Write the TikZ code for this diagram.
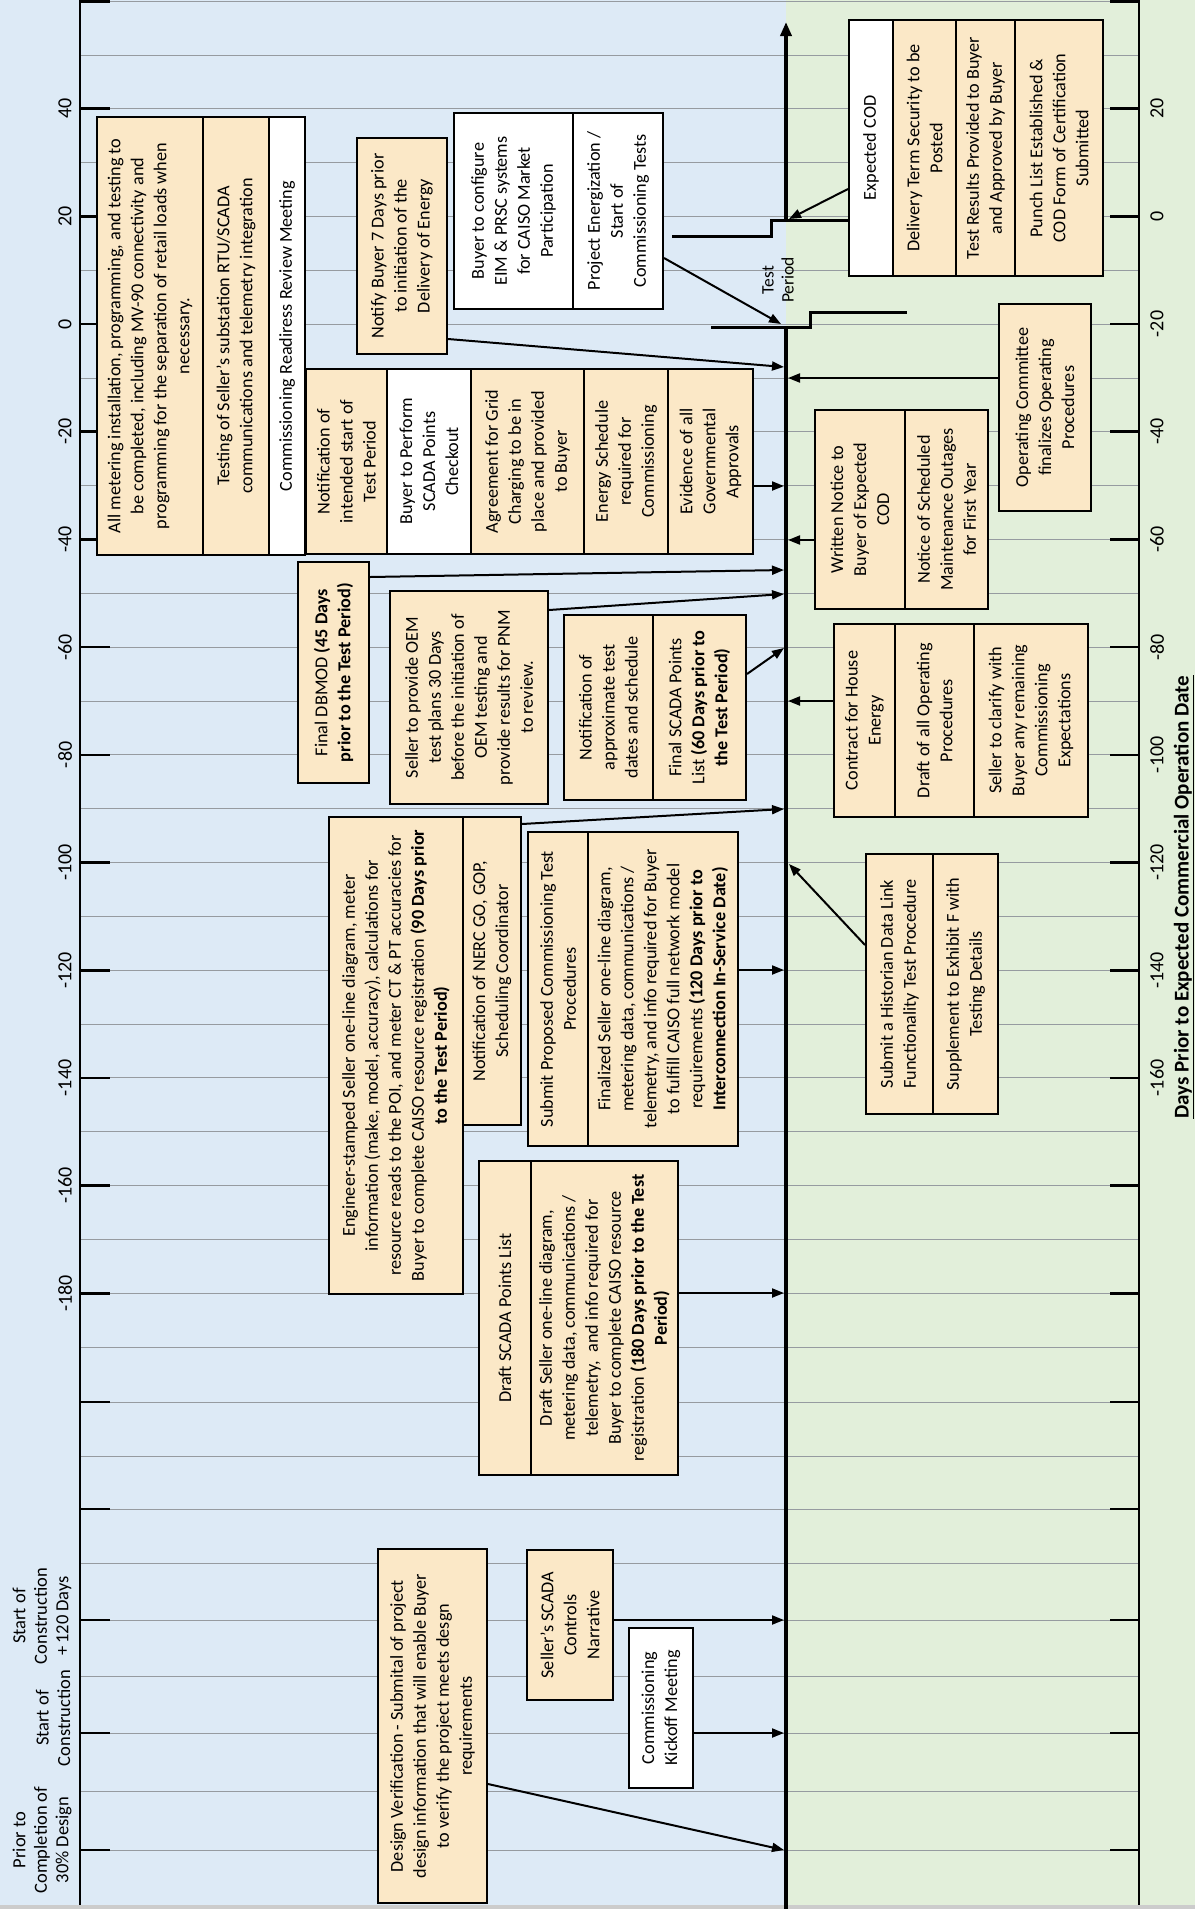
\documentclass[tikz,border=0pt]{standalone}
\usepackage{fontspec}
\setmainfont{Carlito}
\usetikzlibrary{arrows.meta}
\definecolor{bluebg}{RGB}{221,234,246}
\definecolor{greenbg}{RGB}{226,239,218}
\definecolor{peach}{RGB}{251,232,199}
\definecolor{gridc}{RGB}{150,155,160}
\newcommand\rbox[7]{%
  \pgfmathsetmacro\rbW{#5-#3}%
  \pgfmathsetmacro\rbH{#4-#2}%
  \pgfmathsetmacro\rbX{(#2+#4)/2}%
  \pgfmathsetmacro\rbY{(#3+#5)/2}%
  \node[bx,fill=#6,minimum width=\rbW pt,minimum height=\rbH pt] (#1) at (\rbX,\rbY) {#7};%
}
\begin{document}
\begin{tikzpicture}[x=1pt,y=-1pt,
  bx/.style={draw=black,line width=2pt,rotate=90,align=center,inner sep=2pt,font=\fontsize{18.2}{23}\selectfont},
  arr/.style={line width=2pt,-{Triangle[length=12pt,width=9pt]}},
  gl/.style={draw=gridc,line width=1pt},
  tk/.style={line width=2.6pt},
  axisl/.style={line width=4.5pt},
  stepl/.style={line width=3pt},
  lbl/.style={rotate=90,inner sep=0pt,font=\fontsize{20}{24}\selectfont},
  mlbl/.style={rotate=90,inner sep=0pt,align=center,font=\fontsize{18.5}{21.5}\selectfont}]
\useasboundingbox (0,0) rectangle (1195,1909);
% backgrounds
\fill[bluebg] (0,0) rectangle (786,1909);
\fill[greenbg] (786,0) rectangle (1195,1909);
\fill[gray!40] (0,1905) rectangle (1195,1909);
% grid
\foreach \yy in {1.5,55,108.6,162.5,216.3,270,324,378,431.7,485.6,539.4,593,647.1,701,754.8,808.6,862.5,916.4,970.2,1024,1077.9,1131.7,1185.6,1239.5,1293.3,1347,1402,1456,1509,1563,1620,1676,1733,1791,1850}
  \draw[gl] (80,\yy) -- (1139,\yy);
% frame
\draw[line width=2pt] (80,0) -- (80,1905);
\draw[line width=2pt] (1139,0) -- (1139,1905);
% ticks
\foreach \yy in {1.5,108.6,216.3,324,431.7,539.4,647.1,754.8,862.5,970.2,1077.9,1185.6,1293.3,1402,1509,1620,1733,1850}{
  \draw[tk] (80,\yy) -- (110,\yy);
  \draw[tk] (1110,\yy) -- (1139,\yy);}
% left labels
\foreach \d in {40,20,0,-20,-40,-60,-80,-100,-120,-140,-160,-180}
  \node[lbl] at (65,{324-5.385*\d}) {\d};
\node[mlbl] (lbA) at (42,1616) {Start of\\ Construction\\ {+}\,120 Days};
\node[mlbl] (lbB) at (53,1718) {Start of\\ Construction};
\node[mlbl] (lbC) at (42,1840) {Prior to\\ Completion of\\ 30\% Design};
% right labels
\foreach \d in {40,20,0,-20,-40,-60,-80,-100,-120,-140}{
  \pgfmathtruncatemacro\rv{\d-20}
  \node[lbl] at (1157,{324-5.385*\d}) {\rv};}
\node[rotate=90,inner sep=0pt,font=\fontsize{21}{25}\selectfont\bfseries] (title) at (1184,897) {\underline{Days Prior to Expected Commercial Operation Date}};
% axis
\draw[axisl] (786,1909) -- (786,327);
\draw[axisl,-{Triangle[length=14pt,width=11pt]}] (786,221) -- (786,22);
\draw[stepl] (672,236) -- (771,236) -- (771,220) -- (849,220);
\draw[stepl] (711,327) -- (810,327) -- (810,312) -- (907,312);
\node[rotate=90,align=center,inner sep=0pt,font=\fontsize{17.5}{20}\selectfont] (tp) at (778,280) {Test\\ Period};
% boxes
\rbox{A1}{97}{117}{203}{555}{peach}{All metering installation, programming, and testing to\\ be completed, including MV-90 connectivity and\\ programming for the separation of retail loads when\\ necessary.}
\rbox{A2}{203}{117}{269}{555}{peach}{Testing of Seller's substation RTU/SCADA\\ communications and telemetry integration}
\rbox{A3}{269}{117}{305}{555}{white}{Commissioning Readiress Review Meeting}
\rbox{NT}{357}{138}{447}{354}{peach}{Notify Buyer 7 Days prior\\ to initiation of the\\ Delivery of Energy}
\rbox{B1}{306}{369}{387}{554}{peach}{Notification of\\ intended start of\\ Test Period}
\rbox{B2}{387}{369}{471}{554}{white}{Buyer to Perform\\ SCADA Points\\ Checkout}
\rbox{B3}{471}{369}{584}{554}{peach}{Agreement for Grid\\ Charging to be in\\ place and provided\\ to Buyer}
\rbox{B4}{584}{369}{668}{554}{peach}{Energy Schedule\\ required for\\ Commissioning}
\rbox{B5}{668}{369}{753}{554}{peach}{Evidence of all\\ Governmental\\ Approvals}
\rbox{C1}{454}{113}{573}{309}{white}{Buyer to configure\\ EIM \& PRSC systems\\ for CAISO Market\\ Participation}
\rbox{C2}{573}{113}{663}{309}{white}{Project Energization /\\ Start of\\ Commissioning Tests}
\rbox{D1}{849}{20}{893}{276}{white}{Expected COD}
\rbox{D2}{893}{20}{956}{276}{peach}{Delivery Term Security to be\\ Posted}
\rbox{D3}{956}{20}{1015}{276}{peach}{Test Results Provided to Buyer\\ and Approved by Buyer}
\rbox{D4}{1015}{20}{1103}{276}{peach}{Punch List Established \&\\ COD Form of Certification\\ Submitted}
\rbox{OC}{999}{304}{1091}{511}{peach}{Operating Committee\\ finalizes Operating\\ Procedures}
\rbox{E1}{815}{410}{905}{609}{peach}{Written Notice to\\ Buyer of Expected\\ COD}
\rbox{E2}{905}{410}{988}{609}{peach}{Notice of Scheduled\\ Maintenance Outages\\ for First Year}
\rbox{DB}{298}{562}{369}{783}{peach}{Final DBMOD \textbf{(45 Days}\\ \textbf{prior to the Test Period)}}
\rbox{OEM}{390}{591}{548}{804}{peach}{Seller to provide OEM\\ test plans 30 Days\\ before the initiation of\\ OEM testing and\\ provide results for PNM\\ to review.}
\rbox{F1}{564}{615}{653}{800}{peach}{Notification of\\ approximate test\\ dates and schedule}
\rbox{F2}{653}{615}{746}{800}{peach}{Final SCADA Points\\ List \textbf{(60 Days prior to}\\ \textbf{the Test Period)}}
\rbox{G1}{834}{624}{895}{817}{peach}{Contract for House\\ Energy}
\rbox{G2}{895}{624}{974}{817}{peach}{Draft of all Operating\\ Procedures}
\rbox{G3}{974}{624}{1088}{817}{peach}{Seller to clarify with\\ Buyer any remaining\\ Commissioning\\ Expectations}
\rbox{H1}{866}{854}{933}{1114}{peach}{Submit a Historian Data Link\\ Functionality Test Procedure}
\rbox{H2}{933}{854}{998}{1114}{peach}{Supplement to Exhibit F with\\ Testing Details}
\rbox{I1}{329}{817}{463}{1294}{peach}{Engineer-stamped Seller one-line diagram, meter\\ information (make, model, accuracy), calculations for\\ resource reads to the POI, and meter CT \& PT accuracies for\\ Buyer to complete CAISO resource registration \textbf{(90 Days prior}\\ \textbf{to the Test Period)}}
\rbox{I2}{463}{817}{521}{1125}{peach}{Notification of NERC GO, GOP,\\ Scheduling Coordinator}
\rbox{J1}{528}{832}{588}{1146}{peach}{Submit Proposed Commissioning Test\\ Procedures}
\rbox{J2}{588}{832}{738}{1146}{peach}{Finalized Seller one-line diagram,\\ metering data, communications /\\ telemetry, and info required for Buyer\\ to fulfill CAISO full network model\\ requirements \textbf{(120 Days prior to}\\ \textbf{Interconnection In-Service Date)}}
\rbox{K1}{479}{1161}{531}{1475}{peach}{Draft SCADA Points List}
\rbox{K2}{531}{1161}{678}{1475}{peach}{Draft Seller one-line diagram,\\ metering data, communications /\\ telemetry,\ \ and info required for\\ Buyer to complete CAISO resource\\ registration \textbf{(180 Days prior to the Test}\\ \textbf{Period)}}
\rbox{L}{378}{1549}{487}{1903}{peach}{Design Verification - Submital of project\\ design information that will enable Buyer\\ to verify the project meets desgn\\ requirements}
\rbox{M}{527}{1550}{613}{1700}{peach}{Seller's SCADA\\ Controls\\ Narrative}
\rbox{N}{629}{1628}{693}{1788}{white}{Commissioning\\ Kickoff Meeting}
% arrow tips on the axis
\coordinate (tNT) at (784,367);
\coordinate (tB) at (784,486);
\coordinate (tC) at (781,324);
\coordinate (tD) at (789,219);
\coordinate (tOC) at (788,378);
\coordinate (tE) at (788,540);
\coordinate (tDB) at (784,570);
\coordinate (tOEM) at (784,594);
\coordinate (tF) at (784,648);
\coordinate (tG) at (788,701);
\coordinate (tI) at (784,809);
\coordinate (tH) at (789,864);
\coordinate (tJ) at (784,970);
\coordinate (tK) at (784,1293);
\coordinate (tM) at (784,1620);
\coordinate (tN) at (784,1733);
\coordinate (tL) at (784,1850);
% arrows
\draw[arr] (NT.south |- 0,339) -- (tNT);
\draw[arr] (B5.south |- 0,486) -- (tB);
\draw[arr] (C2.south |- 0,258) -- (tC);
\draw[arr] (D1.north |- 0,189) -- (tD);
\draw[arr] (OC.north |- 0,378) -- (tOC);
\draw[arr] (E1.north |- 0,540) -- (tE);
\draw[arr] (DB.south |- 0,577) -- (tDB);
\draw[arr] (OEM.south |- 0,610) -- (tOEM);
\draw[arr] (F2.south |- 0,674) -- (tF);
\draw[arr] (G1.north |- 0,701) -- (tG);
\draw[arr] (I2.south |- 0,824) -- (tI);
\draw[arr] (H1.north |- 0,945) -- (tH);
\draw[arr] (J2.south |- 0,970) -- (tJ);
\draw[arr] (K2.south |- 0,1293) -- (tK);
\draw[arr] (M.south |- 0,1620) -- (tM);
\draw[arr] (N.south |- 0,1733) -- (tN);
\draw[arr] (L.south |- 0,1784) -- (tL);
\end{tikzpicture}
\end{document}
